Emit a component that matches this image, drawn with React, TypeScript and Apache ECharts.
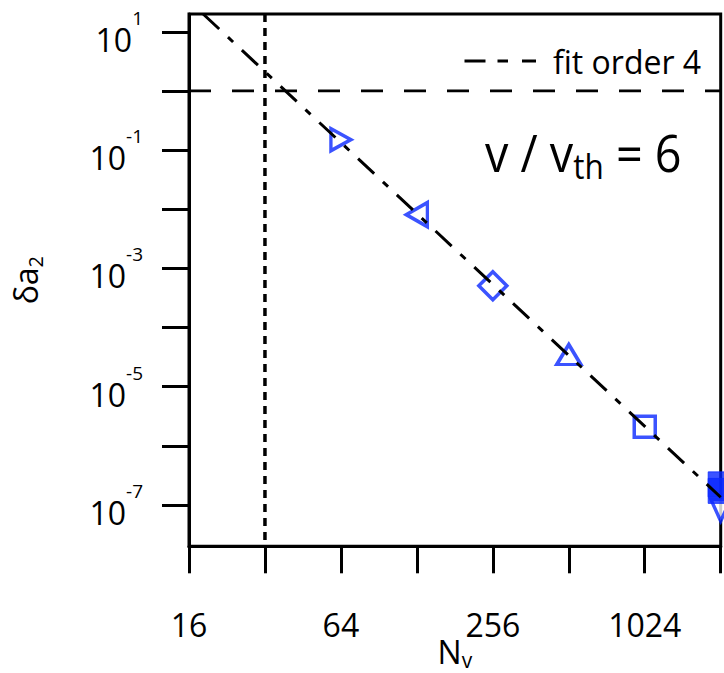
import React, { useEffect, useRef } from "react";
import * as echarts from "echarts";

// Measured points: grid size N_v against the error δa₂
const nv = [64, 128, 256, 512, 1024, 2048, 2048, 2048];
const deltaA2 = [0.15, 8.1e-3, 5.1e-4, 3.5e-5, 2.1e-6, 8.2e-8, 1.73e-7, 2.23e-7];

// Fourth-order fit (dash-dot line), end points
const fitN = [18.2, 2048];
const fitDelta = [20, 1.35e-7];

// Reference lines
const cutoffN = 32;
const unityLevel = 1;

// Axis extents and ticks (x in powers of two, y in powers of ten)
const xRange = [16, 2048];
const yRange = [2e-8, 20];
const xTickExp = [4, 5, 6, 7, 8, 9, 10, 11];
const xLabelExp = [4, 6, 8, 10];
const yTickExp = [-7, -6, -5, -4, -3, -2, -1, 0, 1];
const yLabelExp = [-7, -5, -3, -1, 1];

const FONT = "'Open Sans', sans-serif";
const BLUE = "#0a28ff";
const INK = "#000";

type Marker = { symbol: string; size: number | number[]; rotate?: number; filled?: boolean };
const markerStyles: Marker[] = [
  { symbol: "triangle", size: [22, 20], rotate: -90 },
  { symbol: "triangle", size: [24, 21], rotate: 90 },
  { symbol: "diamond", size: 28 },
  { symbol: "triangle", size: [24, 20] },
  { symbol: "rect", size: 21 },
  { symbol: "triangle", size: [20, 22], rotate: 180 },
  { symbol: "rect", size: 25, filled: true },
  { symbol: "rect", size: 25, filled: true },
];

const lg2 = Math.log2;
const lg10 = Math.log10;
const xMin = lg2(xRange[0]);
const xMax = lg2(xRange[1]);
const yMin = lg10(yRange[0]);
const yMax = lg10(yRange[1]);

const axisLineStyle = { color: INK, width: 3 };

const scatterData = nv.map((n, i) => {
  const m = markerStyles[i];
  return {
    value: [lg2(n), lg10(deltaA2[i])],
    symbol: m.symbol,
    symbolSize: m.size,
    symbolRotate: m.rotate || 0,
    itemStyle: m.filled
      ? { color: BLUE, borderColor: BLUE, borderWidth: 1 }
      : { color: "#fff", borderColor: BLUE, borderWidth: 3.5 },
  };
});

const option: any = {
  animation: false,
  backgroundColor: "#fff",
  textStyle: { fontFamily: FONT },
  grid: {
    left: 189,
    right: 3.3,
    top: 14,
    bottom: 126.7,
    show: true,
    borderColor: INK,
    borderWidth: 3,
    containLabel: false,
    outerBoundsMode: "none",
  },
  legend: {
    data: [{ name: "fit order 4", icon: "path://M0 0h21v3H0z M33 0h10.5v3H33z M57.5 0h14v3H57.5z" }],
    left: 464.5,
    top: 37,
    padding: 0,
    itemWidth: 71.5,
    itemHeight: 3,
    selectedMode: false,
    itemStyle: { color: INK, borderWidth: 0 },
    textStyle: { fontSize: 32, lineHeight: 32, color: INK, fontFamily: FONT, padding: [0, 0, 16, 12] },
  },
  xAxis: {
    type: "value",
    min: xMin,
    max: xMax,
    axisLine: { onZero: false, lineStyle: axisLineStyle },
    axisTick: { show: true, inside: false, length: 27, lineStyle: axisLineStyle, customValues: xTickExp },
    axisLabel: {
      customValues: xLabelExp,
      formatter: (v: number) => String(Math.round(Math.pow(2, v))),
      fontSize: 32,
      lineHeight: 32,
      margin: 62,
      color: INK,
      fontFamily: FONT,
    },
    splitLine: { show: false },
    name: "{m|N}{s|v}",
    nameLocation: "middle",
    nameMoveOverlap: false,
    nameGap: 86,
    nameTextStyle: {
      color: INK,
      rich: {
        m: { fontSize: 32, height: 32, lineHeight: 38, fontFamily: FONT, color: INK },
        s: { fontSize: 21, height: 21, lineHeight: 38, verticalAlign: "bottom", fontFamily: FONT, color: INK },
      },
    },
  },
  yAxis: {
    type: "value",
    min: yMin,
    max: yMax,
    axisLine: { onZero: false, lineStyle: axisLineStyle },
    axisTick: { show: true, inside: false, length: 27, lineStyle: axisLineStyle, customValues: yTickExp },
    axisLabel: {
      customValues: yLabelExp,
      formatter: (v: number) => `{b|10}{s|${Math.round(v)}}`,
      margin: 46,
      rich: {
        b: { fontSize: 32, height: 32, lineHeight: 47, verticalAlign: "bottom", fontFamily: FONT, color: INK },
        s: { fontSize: 19, height: 19, lineHeight: 47, verticalAlign: "top", fontFamily: FONT, color: INK },
      },
    },
    splitLine: { show: false },
    name: "{m|δa}{s|2}",
    nameLocation: "middle",
    nameMoveOverlap: false,
    nameGap: 144,
    nameTextStyle: {
      color: INK,
      rich: {
        m: { fontSize: 32, height: 32, lineHeight: 40, fontFamily: FONT, color: INK },
        s: { fontSize: 20, height: 20, lineHeight: 40, verticalAlign: "bottom", fontFamily: FONT, color: INK },
      },
    },
  },
  graphic: [
    {
      type: "text",
      x: 485,
      y: 120.6,
      scaleX: 0.9,
      style: {
        text: "{m|v / v}{s|th}{m| = 6}",
        align: "left",
        verticalAlign: "top",
        fill: INK,
        rich: {
          m: { fontSize: 52, lineHeight: 62, fontFamily: FONT, fill: INK },
          s: { fontSize: 35, lineHeight: 62, verticalAlign: "bottom", fontFamily: FONT, fill: INK },
        },
      },
    },
  ],
  series: [
    {
      type: "line",
      silent: true,
      symbol: "none",
      data: [
        [xMin, lg10(unityLevel)],
        [xMax, lg10(unityLevel)],
      ],
      lineStyle: { color: INK, width: 2.7, type: [22, 21] },
    },
    {
      type: "line",
      silent: true,
      symbol: "none",
      data: [
        [lg2(cutoffN), yMax],
        [lg2(cutoffN), yMin],
      ],
      lineStyle: { color: INK, width: 3.5, type: [8, 6] },
    },
    {
      name: "fit order 4",
      type: "line",
      silent: true,
      symbol: "none",
      color: INK,
      data: fitN.map((n, i) => [lg2(n), lg10(fitDelta[i])]),
      lineStyle: { color: INK, width: 3, type: [22, 12, 7, 12] },
    },
    {
      type: "scatter",
      clip: false,
      data: scatterData,
    },
  ],
};

export default function App() {
  const ref = useRef<HTMLDivElement>(null);
  useEffect(() => {
    document.body.style.margin = "0";
    const chart = echarts.init(ref.current!, null, { renderer: "svg" });
    chart.setOption(option);
    return () => chart.dispose();
  }, []);
  return <div ref={ref} style={{ width: 724, height: 673 }} />;
}
